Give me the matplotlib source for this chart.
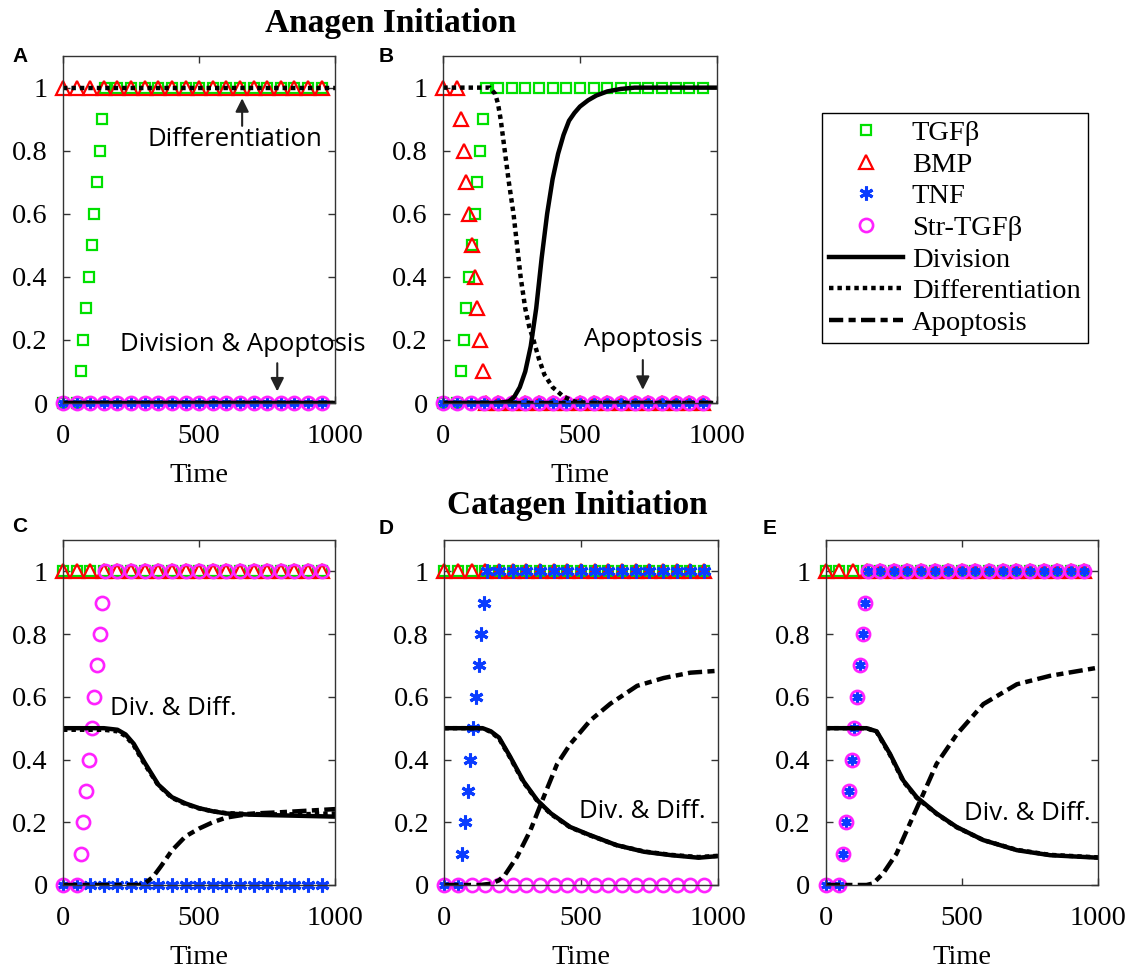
import matplotlib.pyplot as plt
from matplotlib.lines import Line2D

plt.rcParams['font.family'] = ['Liberation Serif', 'DejaVu Serif']

# marker sample times (every 50) and the ramped signal samples
grid_t = [0, 50, 100, 150, 200, 250, 300, 350, 400, 450, 500, 550, 600, 650, 700, 750, 800, 850, 900, 950]
grid_one = [1] * len(grid_t)
grid_zero = [0] * len(grid_t)

ramp_t = [0, 50, 65, 75, 85, 95, 105, 115, 125, 135, 145, 155,
          200, 250, 300, 350, 400, 450, 500, 550, 600, 650, 700, 750, 800, 850, 900, 950]
ramp_up = [0, 0, 0.1, 0.2, 0.3, 0.4, 0.5, 0.6, 0.7, 0.8, 0.9, 1,
           1, 1, 1, 1, 1, 1, 1, 1, 1, 1, 1, 1, 1, 1, 1, 1]
ramp_down = [1, 1, 0.9, 0.8, 0.7, 0.6, 0.5, 0.4, 0.3, 0.2, 0.1, 0,
             0, 0, 0, 0, 0, 0, 0, 0, 0, 0, 0, 0, 0, 0, 0, 0]

flat_t = [0, 1000]
flat_one = [1, 1]
flat_zero = [0, 0]

# panel B cell fates
divB_t = [0, 200, 240, 260, 280, 300, 320, 340, 360, 380, 400, 420, 440, 460, 480, 500, 530, 560, 600, 650, 700, 1000]
divB = [0, 0, 0.005, 0.02, 0.05, 0.10, 0.18, 0.30, 0.46, 0.60, 0.71, 0.79, 0.85, 0.895, 0.92, 0.94, 0.96, 0.975, 0.988, 0.996, 1.0, 1.0]
difB_t = [0, 170, 190, 200, 210, 225, 240, 257, 270, 283, 300, 315, 330, 350, 370, 400, 440, 480, 520, 1000]
difB = [1, 1, 0.98, 0.95, 0.9, 0.8, 0.7, 0.6, 0.5, 0.4, 0.3, 0.24, 0.2, 0.14, 0.09, 0.05, 0.02, 0.005, 0, 0]

# panel C
divC_t = [0, 150, 200, 230, 260, 300, 350, 400, 450, 500, 550, 600, 700, 800, 900, 1000]
divC = [0.5, 0.5, 0.495, 0.48, 0.45, 0.39, 0.32, 0.28, 0.26, 0.245, 0.235, 0.228, 0.224, 0.222, 0.22, 0.218]
difC = [0.495, 0.495, 0.49, 0.475, 0.445, 0.385, 0.318, 0.278, 0.258, 0.244, 0.235, 0.229, 0.226, 0.225, 0.226, 0.228]
apoC_t = [0, 280, 300, 330, 360, 400, 450, 500, 550, 600, 650, 700, 800, 900, 1000]
apoC = [0, 0, 0.005, 0.025, 0.06, 0.11, 0.155, 0.18, 0.2, 0.215, 0.222, 0.228, 0.232, 0.237, 0.242]

# panel D
divD_t = [0, 140, 170, 200, 240, 290, 340, 390, 460, 530, 630, 730, 830, 930, 1000]
divD = [0.5, 0.5, 0.49, 0.47, 0.41, 0.33, 0.27, 0.228, 0.185, 0.16, 0.127, 0.106, 0.095, 0.087, 0.092]
difD = [0.5, 0.5, 0.488, 0.467, 0.407, 0.327, 0.268, 0.226, 0.184, 0.159, 0.127, 0.107, 0.096, 0.089, 0.093]
apoD_t = [0, 130, 170, 200, 220, 266, 315, 363, 412, 461, 534, 607, 705, 802, 900, 1000]
apoD = [0, 0, 0.004, 0.015, 0.03, 0.09, 0.175, 0.28, 0.385, 0.45, 0.525, 0.578, 0.635, 0.66, 0.677, 0.683]

# panel E
divE_t = [0, 150, 187, 236, 285, 334, 407, 481, 579, 702, 824, 1000]
divE = [0.5, 0.5, 0.49, 0.418, 0.333, 0.28, 0.228, 0.185, 0.143, 0.111, 0.095, 0.087]
difE = [0.5, 0.5, 0.488, 0.415, 0.33, 0.278, 0.227, 0.184, 0.143, 0.112, 0.096, 0.088]
apoE_t = [0, 150, 174, 211, 260, 309, 358, 407, 481, 579, 702, 824, 1000]
apoE = [0, 0, 0.005, 0.037, 0.1, 0.196, 0.29, 0.386, 0.48, 0.577, 0.64, 0.667, 0.693]

legend_labels = ['TGF\u03b2', 'BMP', 'TNF', 'Str-TGF\u03b2', 'Division', 'Differentiation', 'Apoptosis']

GREEN = '#00e000'
RED = '#ff0000'
BLUE = '#0a3cff'
MAGENTA = '#ff22ff'
LW = 3.2
DOT = (0, (1, 0.9))
DASHDOT = (0, (3.2, 1.2, 1.6, 1.2))
SERIF = ['Liberation Serif', 'DejaVu Serif']

sq_kw = dict(ls='none', marker='s', ms=6.5, mfc='none', mec=GREEN, mew=1.6, clip_on=False)
tri_kw = dict(ls='none', marker='^', ms=10, mfc='none', mec=RED, mew=1.6, clip_on=False)
star_kw = dict(ls='none', marker=(6, 2, 0), ms=10, mec=BLUE, mew=2.2, clip_on=False)
circ_kw = dict(ls='none', marker='o', ms=9.5, mfc='none', mec=MAGENTA, mew=1.9, clip_on=False)

fig = plt.figure(figsize=(11.25, 9.69), dpi=100)


def panel(rect, tgfb, bmp, tnf, strt, div, dif, apo):
    ax = fig.add_axes(rect)
    ax.plot(*tgfb, **sq_kw)
    ax.plot(*bmp, **tri_kw)
    ax.plot(*tnf, **star_kw)
    ax.plot(*strt, **circ_kw)
    ax.plot(*div, color='black', lw=LW, ls='-')
    ax.plot(*dif, color='black', lw=LW, ls=DOT)
    ax.plot(*apo, color='black', lw=LW, ls=DASHDOT)
    ax.set_xlim(0, 1000)
    ax.set_ylim(0, 1.1)
    ax.set_xticks([0, 500, 1000])
    ax.set_xticklabels(['0', '500', '1000'], family=SERIF)
    ax.set_yticks([0, 0.2, 0.4, 0.6, 0.8, 1])
    ax.set_yticklabels(['0', '0.2', '0.4', '0.6', '0.8', '1'], family=SERIF)
    ax.tick_params(direction='in', top=True, right=True, length=5, width=1,
                   labelsize=20.5, color='#333333')
    ax.tick_params(axis='x', pad=15)
    ax.tick_params(axis='y', pad=11)
    for s in ax.spines.values():
        s.set_linewidth(1)
        s.set_color('#333333')
    ax.set_xlabel('Time', fontsize=20.5, labelpad=10, family=SERIF)
    return ax


axA = panel([0.056, 0.5841, 0.242, 0.358],
            (ramp_t, ramp_up), (grid_t, grid_one), (grid_t, grid_zero), (grid_t, grid_zero),
            (flat_t, flat_zero), (flat_t, flat_one), (flat_t, flat_zero))
axB = panel([0.394, 0.5841, 0.243, 0.358],
            (ramp_t, ramp_up), (ramp_t, ramp_down), (grid_t, grid_zero), (grid_t, grid_zero),
            (divB_t, divB), (difB_t, difB), (flat_t, flat_zero))
axC = panel([0.056, 0.0867, 0.242, 0.356],
            (grid_t, grid_one), (grid_t, grid_one), (grid_t, grid_zero), (ramp_t, ramp_up),
            (divC_t, divC), (divC_t, difC), (apoC_t, apoC))
axD = panel([0.395, 0.0867, 0.243, 0.356],
            (grid_t, grid_one), (grid_t, grid_one), (ramp_t, ramp_up), (grid_t, grid_zero),
            (divD_t, divD), (divD_t, difD), (apoD_t, apoD))
axE = panel([0.734, 0.0867, 0.242, 0.356],
            (grid_t, grid_one), (grid_t, grid_one), (ramp_t, ramp_up), (ramp_t, ramp_up),
            (divE_t, divE), (divE_t, difE), (apoE_t, apoE))

# annotations
ann = dict(family=['Open Sans', 'DejaVu Sans'], fontsize=18.5, ha='center', va='center')
arrow = dict(arrowstyle='-|>', color='#222222', lw=1.5, mutation_scale=20)
axA.text(632, 0.835, 'Differentiation', **ann)
axA.annotate('', xy=(658, 0.975), xytext=(658, 0.87), arrowprops=arrow)
axA.text(662, 0.184, 'Division & Apoptosis', **ann)
axA.annotate('', xy=(787, 0.028), xytext=(787, 0.135), arrowprops=arrow)
axB.text(730, 0.2, 'Apoptosis', **ann)
axB.annotate('', xy=(730, 0.033), xytext=(730, 0.145), arrowprops=arrow)
axC.text(407, 0.562, 'Div. & Diff.', **ann)
axD.text(725, 0.233, 'Div. & Diff.', **ann)
axE.text(739, 0.228, 'Div. & Diff.', **ann)

# titles and panel letters
fig.text(391 / 1125, 1 - 32 / 969, 'Anagen Initiation', ha='center', va='baseline',
         fontsize=24, fontweight='bold', family=SERIF)
fig.text(577 / 1125, 1 - 514 / 969, 'Catagen Initiation', ha='center', va='baseline',
         fontsize=24, fontweight='bold', family=SERIF)
for lab, x, y in [('A', 20, 57), ('B', 386, 57), ('C', 20, 527), ('D', 386, 528), ('E', 770, 528)]:
    fig.text(x / 1125, 1 - y / 969, lab, ha='center', va='center', fontsize=15,
             fontweight='bold', family=['Liberation Sans', 'DejaVu Sans'])

# legend
handles = [
    Line2D([], [], **{k: v for k, v in sq_kw.items() if k != 'clip_on'}),
    Line2D([], [], **{k: v for k, v in tri_kw.items() if k != 'clip_on'}),
    Line2D([], [], **{k: v for k, v in star_kw.items() if k != 'clip_on'}),
    Line2D([], [], **{k: v for k, v in circ_kw.items() if k != 'clip_on'}),
    Line2D([], [], color='black', lw=LW, ls='-'),
    Line2D([], [], color='black', lw=LW, ls=DOT),
    Line2D([], [], color='black', lw=LW, ls=DASHDOT),
]
leg = fig.legend(handles, legend_labels, loc='upper left',
                 bbox_to_anchor=(822 / 1125, 1 - 113 / 969), borderaxespad=0,
                 frameon=True, fancybox=False, edgecolor='black',
                 framealpha=1, handlelength=2.6, handletextpad=0.3, labelspacing=0.2,
                 borderpad=0.25, numpoints=1, prop={'family': SERIF, 'size': 20.5})
leg.get_frame().set_linewidth(1)

fig.savefig('out.png', dpi=100)
